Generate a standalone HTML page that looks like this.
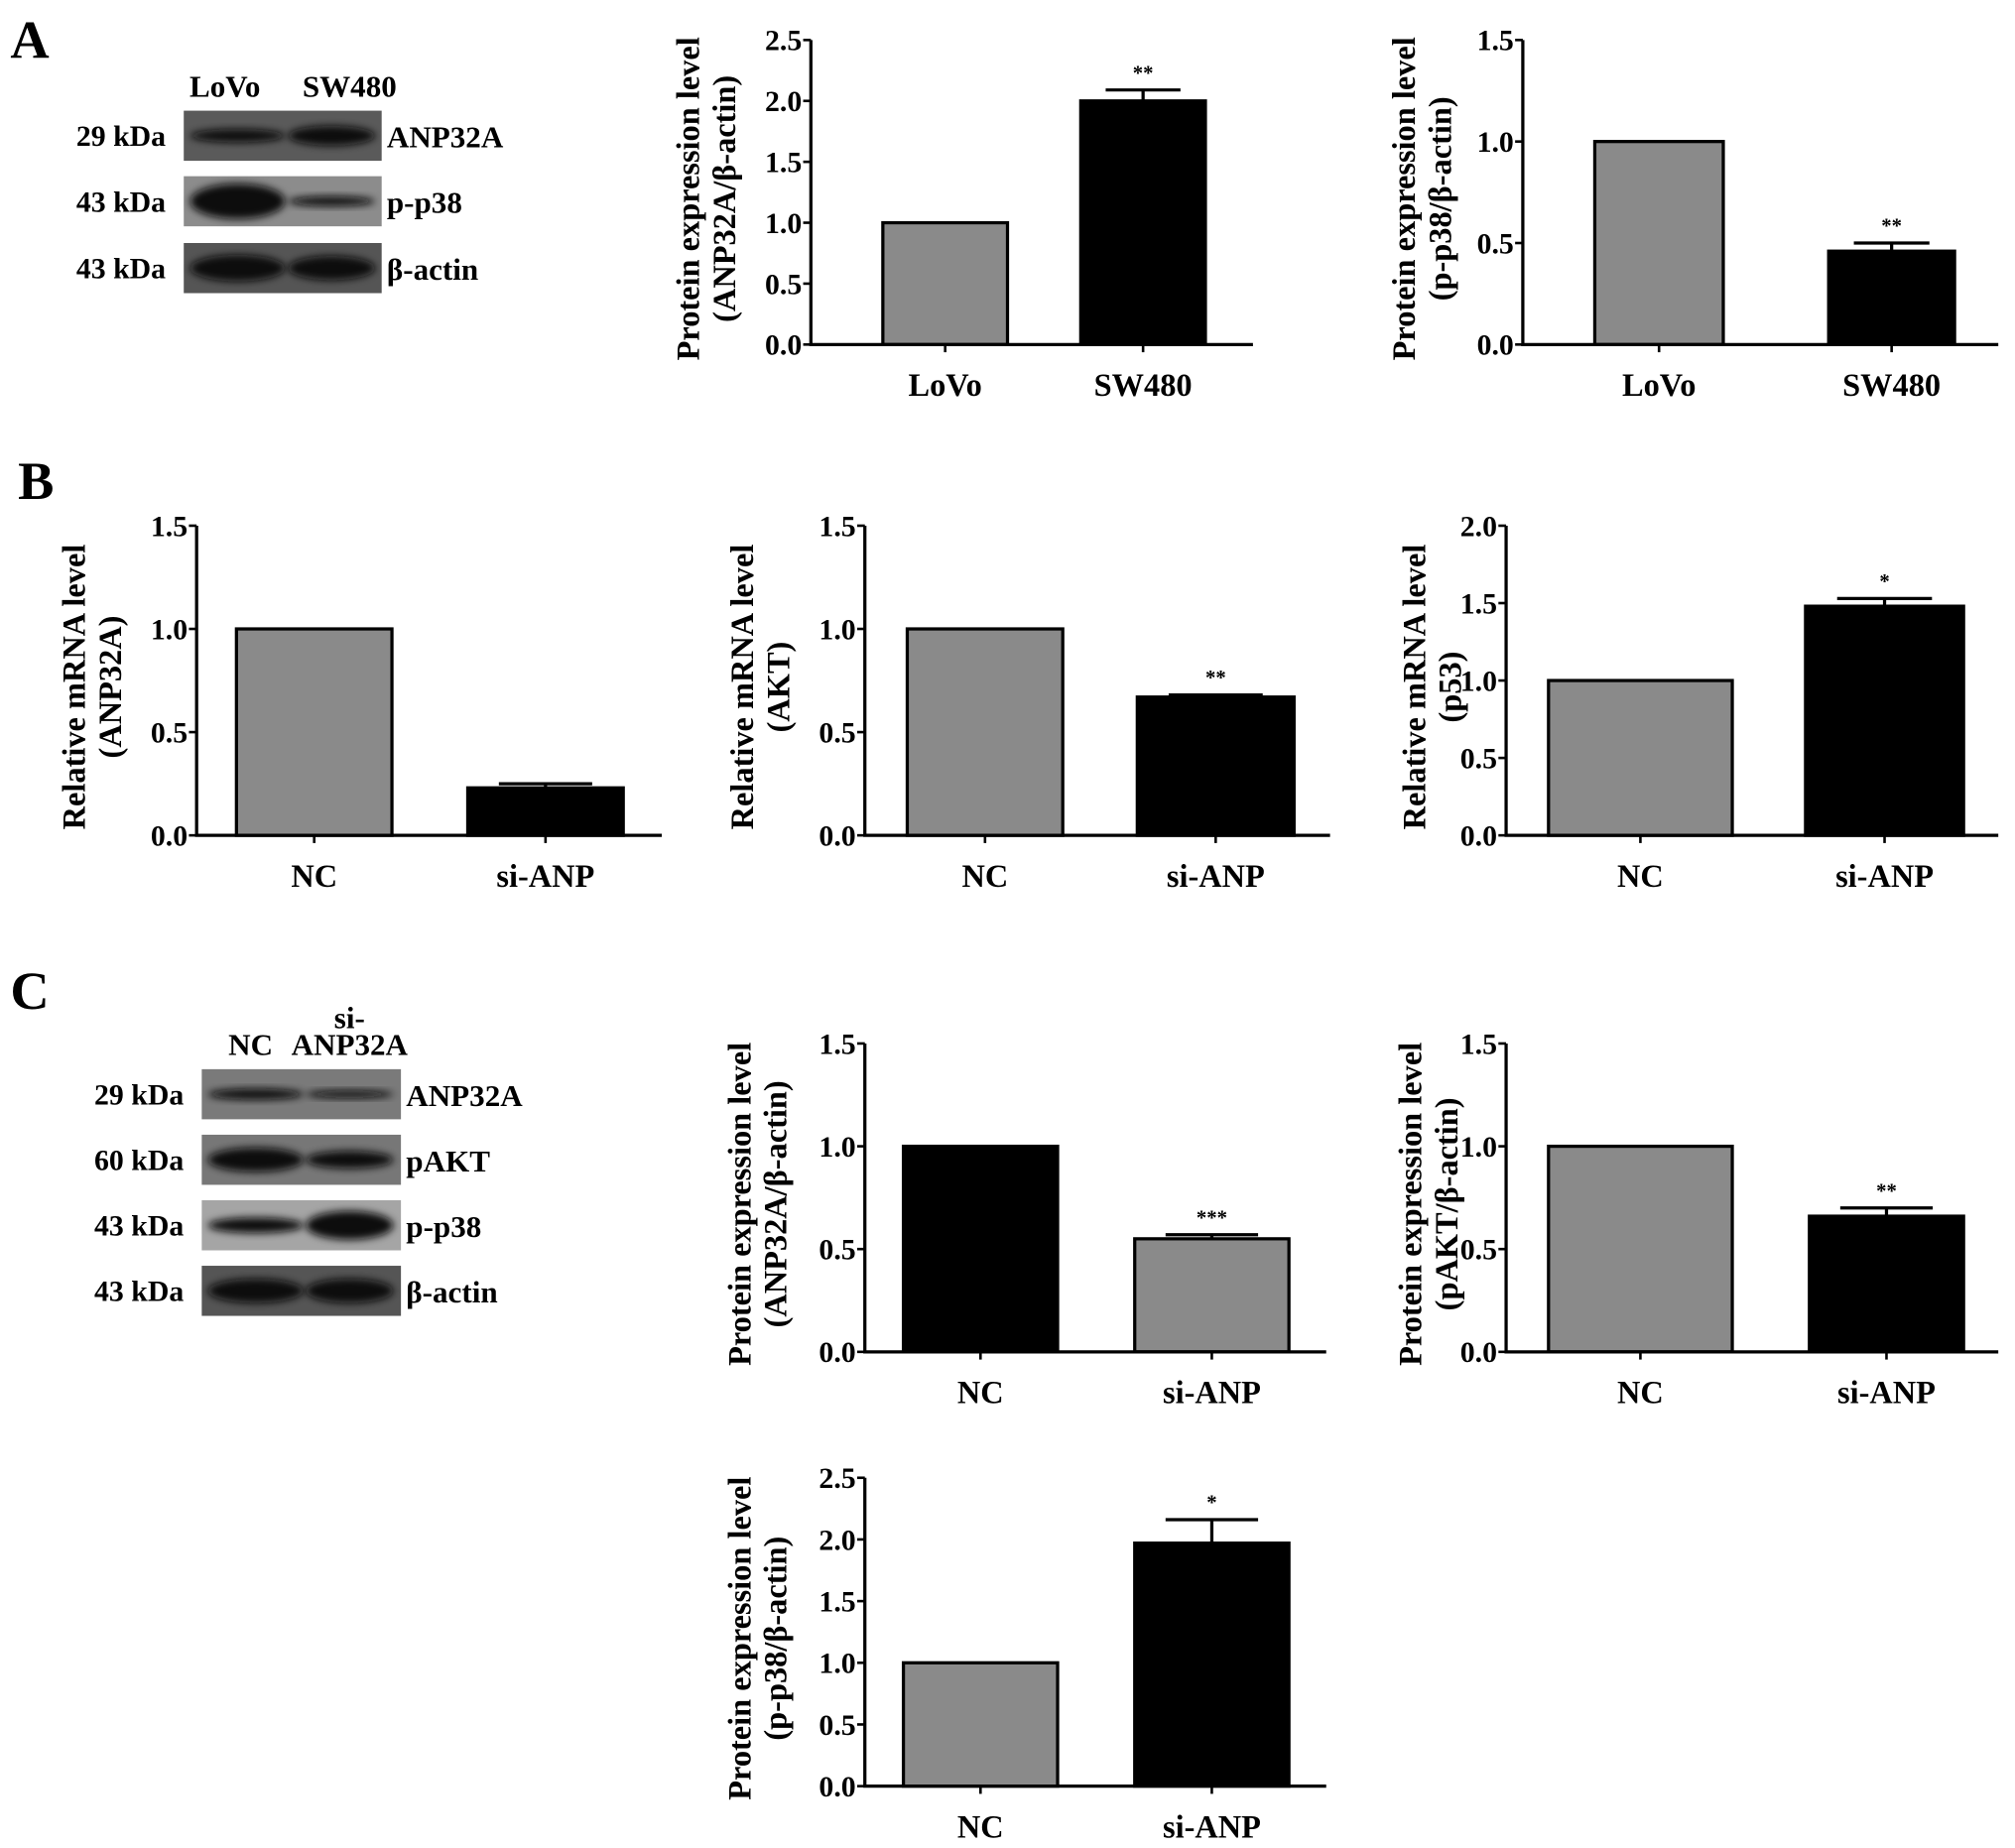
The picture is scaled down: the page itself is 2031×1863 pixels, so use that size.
<!DOCTYPE html>
<html><head><meta charset="utf-8">
<style>
html,body{margin:0;padding:0;background:#fff;}
svg{display:block;font-family:"Liberation Serif",serif;font-weight:bold;}
</style></head>
<body>
<svg id="fig" width="2031" height="1863" viewBox="0 0 1568 1438" xmlns="http://www.w3.org/2000/svg">
<defs>
<filter id="blur" x="-20%" y="-50%" width="140%" height="200%"><feGaussianBlur stdDeviation="3"/></filter>
</defs>
<text x="8" y="45" font-size="42">A</text>
<text x="14" y="388" font-size="42">B</text>
<text x="8" y="785" font-size="42">C</text>
<g id="blots"></g>
<g id="charts"></g>
</svg>
<script>
// ---- chart data ----
const catsA = ["LoVo", "SW480"];
const catsB = ["NC", "si-ANP"];
const a1Values = [1.0, 2.0], a1Err = [0, 0.09], a1Sig = ["", "**"];
const a2Values = [1.0, 0.46], a2Err = [0, 0.04], a2Sig = ["", "**"];
const b1Values = [1.0, 0.23], b1Err = [0, 0.02], b1Sig = ["", ""];
const b2Values = [1.0, 0.67], b2Err = [0, 0.01], b2Sig = ["", "**"];
const b3Values = [1.0, 1.48], b3Err = [0, 0.05], b3Sig = ["", "*"];
const c1Values = [1.0, 0.55], c1Err = [0, 0.02], c1Sig = ["", "***"];
const c2Values = [1.0, 0.66], c2Err = [0, 0.04], c2Sig = ["", "**"];
const c3Values = [1.0, 1.97], c3Err = [0, 0.19], c3Sig = ["", "*"];
const ticks25 = ["0.0","0.5","1.0","1.5","2.0","2.5"];
const ticks15 = ["0.0","0.5","1.0","1.5"];
const ticks20 = ["0.0","0.5","1.0","1.5","2.0"];

const NS = "http://www.w3.org/2000/svg";
function mk(parent, tag, attrs, text) {
  const e = document.createElementNS(NS, tag);
  for (const k in attrs) e.setAttribute(k, attrs[k]);
  if (text !== undefined) e.textContent = text;
  parent.appendChild(e);
  return e;
}
const charts = document.getElementById("charts");

function chart(id, cfg) {
  const g = mk(charts, "g", {});
  
  
  const ymax = parseFloat(cfg.ticks[cfg.ticks.length - 1]);
  const y = v => cfg.bottom - (v / ymax) * (cfg.bottom - cfg.top);
  cfg.values.forEach((v, i) => {
    const bx = cfg.bars[i][0], bw = cfg.bars[i][1] - cfg.bars[i][0];
    const r = mk(g, "rect", {x: bx, y: y(v), width: bw, height: cfg.bottom - y(v), fill: cfg.colors[i], stroke: "#000", "stroke-width": 2.5});
    
    
    const cx = bx + bw / 2;
    if (cfg.err[i] > 0) {
      const ey = y(v + cfg.err[i]);
      const el = mk(g, "path", {d: `M${cx} ${y(v)}V${ey}M${cx - bw * 0.3} ${ey}H${cx + bw * 0.3}`, stroke: "#000", "stroke-width": 2.5, fill: "none"});
      
      
    }
    if (cfg.sig[i]) {
      const s = mk(g, "text", {x: cx, y: y(v + cfg.err[i]) - 8, "font-size": 16, "text-anchor": "middle"}, cfg.sig[i]);
      
      
    }
    mk(g, "line", {x1: cx, x2: cx, y1: cfg.bottom, y2: cfg.bottom + 6, stroke: "#000", "stroke-width": 2});
    const lbl = mk(g, "text", {x: cx, y: cfg.bottom + 40, "font-size": 25, "text-anchor": "middle"}, cfg.cats[i]);
    
    
  });
  const ax = mk(g, "path", {d: `M${cfg.ax} ${cfg.top}V${cfg.bottom}H${cfg.right}`, stroke: "#000", "stroke-width": 2.5, fill: "none"});
  
  
  cfg.ticks.forEach(t => {
    const ty = y(parseFloat(t));
    mk(g, "line", {x1: cfg.ax - 6, x2: cfg.ax, y1: ty, y2: ty, stroke: "#000", "stroke-width": 2});
    const tl = mk(g, "text", {x: cfg.ax - 7, y: ty + 8, "font-size": 23, "text-anchor": "end"}, t);
    
    
  });
  const mid = (cfg.top + cfg.bottom) / 2 + 5;
  const t1 = mk(g, "text", {x: 0, y: 0, "font-size": 25, "text-anchor": "middle", transform: `translate(${cfg.tx},${mid}) rotate(-90)`}, cfg.title[0]);
  
  
  const t2 = mk(g, "text", {x: 0, y: 0, "font-size": 25, "text-anchor": "middle", transform: `translate(${cfg.tx + 28},${mid}) rotate(-90)`}, cfg.title[1]);
  
  
}
const G = "#8a8a8a", K = "#000";
chart("chart-a-anp32a", {ax:631,right:975,top:31,bottom:268,ticks:ticks25,bars:[[687,784],[841,938]],values:a1Values,err:a1Err,sig:a1Sig,cats:catsA,colors:[G,K],tx:544,title:["Protein expression level","(ANP32A/β-actin)"]});
chart("chart-a-pp38", {ax:1185,right:1555,top:31,bottom:268,ticks:ticks15,bars:[[1241,1341],[1423,1521]],values:a2Values,err:a2Err,sig:a2Sig,cats:catsA,colors:[G,K],tx:1101,title:["Protein expression level","(p-p38/β-actin)"]});
chart("chart-b-anp32a", {ax:153,right:515,top:409,bottom:650,ticks:ticks15,bars:[[184,305],[364,485]],values:b1Values,err:b1Err,sig:b1Sig,cats:catsB,colors:[G,K],tx:66,title:["Relative mRNA level","(ANP32A)"]});
chart("chart-b-akt", {ax:673,right:1035,top:409,bottom:650,ticks:ticks15,bars:[[706,827],[885,1007]],values:b2Values,err:b2Err,sig:b2Sig,cats:catsB,colors:[G,K],tx:586,title:["Relative mRNA level","(AKT)"]});
chart("chart-b-p53", {ax:1172,right:1555,top:409,bottom:650,ticks:ticks20,bars:[[1205,1348],[1405,1528]],values:b3Values,err:b3Err,sig:b3Sig,cats:catsB,colors:[G,K],tx:1109,title:["Relative mRNA level","(p53)"]});
chart("chart-c-anp32a", {ax:673,right:1032,top:812,bottom:1052,ticks:ticks15,bars:[[703,823],[883,1003]],values:c1Values,err:c1Err,sig:c1Sig,cats:catsB,colors:[K,G],tx:584,title:["Protein expression level","(ANP32A/β-actin)"]});
chart("chart-c-pakt", {ax:1172,right:1555,top:812,bottom:1052,ticks:ticks15,bars:[[1205,1348],[1408,1528]],values:c2Values,err:c2Err,sig:c2Sig,cats:catsB,colors:[G,K],tx:1106,title:["Protein expression level","(pAKT/β-actin)"]});
chart("chart-c-pp38", {ax:673,right:1032,top:1150,bottom:1390,ticks:ticks25,bars:[[703,823],[883,1003]],values:c3Values,err:c3Err,sig:c3Sig,cats:catsB,colors:[G,K],tx:584,title:["Protein expression level","(p-p38/β-actin)"]});

// ---- western blots ----
const blots = document.getElementById("blots");
function blot(name, x, w, rows, lanes, header) {
  const g = mk(blots, "g", {});
  
  
  header.forEach(h => mk(g, "text", {x: h[0], y: h[1], "font-size": 24, "text-anchor": "middle"}, h[2]));
  rows.forEach(r => {
    const [y, h, kda, prot, bg, i1, i2] = r;
    const box = mk(g, "rect", {x: x, y: y, width: w, height: h, fill: bg});
    
    
    mk(g, "ellipse", {cx: x + lanes[0], cy: y + h / 2, rx: w * 0.24, ry: h * 0.22 * i1, fill: "#0a0a0a", filter: "url(#blur)"});
    mk(g, "ellipse", {cx: x + lanes[1], cy: y + h / 2, rx: w * 0.22, ry: h * 0.22 * i2, fill: "#0a0a0a", filter: "url(#blur)"});
    const kl = mk(g, "text", {x: x - 14, y: y + h / 2 + 8, "font-size": 23, "text-anchor": "end"}, kda);
    
    
    const pl = mk(g, "text", {x: x + w + 4, y: y + h / 2 + 9, "font-size": 24}, prot);
    
    
  });
}
blot("blot-a", 143, 154, [
  [86, 39, "29 kDa", "ANP32A", "#5a5a5a", 0.6, 0.9],
  [137, 39, "43 kDa", "p-p38", "#8c8c8c", 1.6, 0.45],
  [189, 39, "43 kDa", "β-actin", "#555", 1.2, 1.1]
], [42, 115], [[175, 75, "LoVo"], [272, 75, "SW480"]]);
blot("blot-c", 157, 155, [
  [832, 39, "29 kDa", "ANP32A", "#7a7a7a", 0.5, 0.35],
  [883, 39, "60 kDa", "pAKT", "#777", 1.1, 0.8],
  [934, 39, "43 kDa", "p-p38", "#a5a5a5", 0.7, 1.3],
  [985, 39, "43 kDa", "β-actin", "#555", 1.1, 1.1]
], [42, 115], [[195, 821, "NC"], [272, 800, "si-"], [272, 821, "ANP32A"]]);
</script>
</body></html>
